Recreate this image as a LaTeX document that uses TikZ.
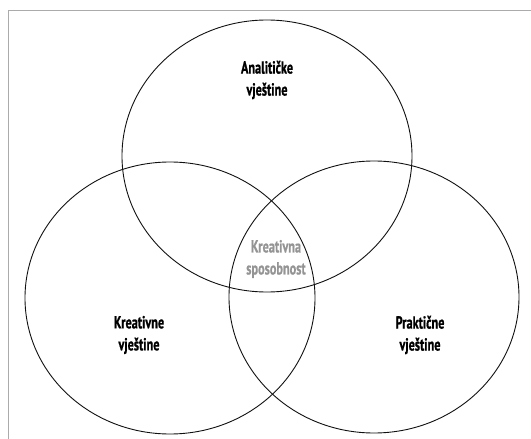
\documentclass[tikz,border=0pt]{standalone}
\usepackage{fontspec}
\newfontfamily\lblfont{PT Sans Bold}[FakeStretch=0.7, FakeBold=0.8]
\usetikzlibrary{positioning, shapes.geometric}
\definecolor{cframe}{HTML}{ABABAB}
\definecolor{cgrey}{HTML}{949494}
\definecolor{cline}{HTML}{111111}
\tikzset{
  every picture/.style={x=1pt, y=-1pt},
  set/.style={ellipse, draw=cline, line width=0.9pt, minimum width=290pt, minimum height=272pt, inner sep=0pt},
  lbl/.style={font=\lblfont\fontsize{17.5}{22}\selectfont, align=center, text=black},
  core/.style={lbl, text=cgrey},
}
\begin{document}
\begin{tikzpicture}
  \useasboundingbox (0,0) rectangle (531,439);
  % frame
  \draw[cframe, line width=1pt] (8,439) -- (8,10) -- (531,10);
  % the three sets
  \node[set] (ana) at (267,156) {};
  \node[set] (kre) at (170,298) {};
  \node[set] (pra) at (374,297) {};
  % labels
  \node[lbl] (anatxt) at (267,80) {Analitičke\\vještine};
  \node[lbl] (kretxt) at (139,335) {Kreativne\\vještine};
  \node[lbl] (pratxt) at (420,335) {Praktične\\vještine};
  \node[core] (midtxt) at (276,259) {Kreativna\\sposobnost};
\end{tikzpicture}
\end{document}
